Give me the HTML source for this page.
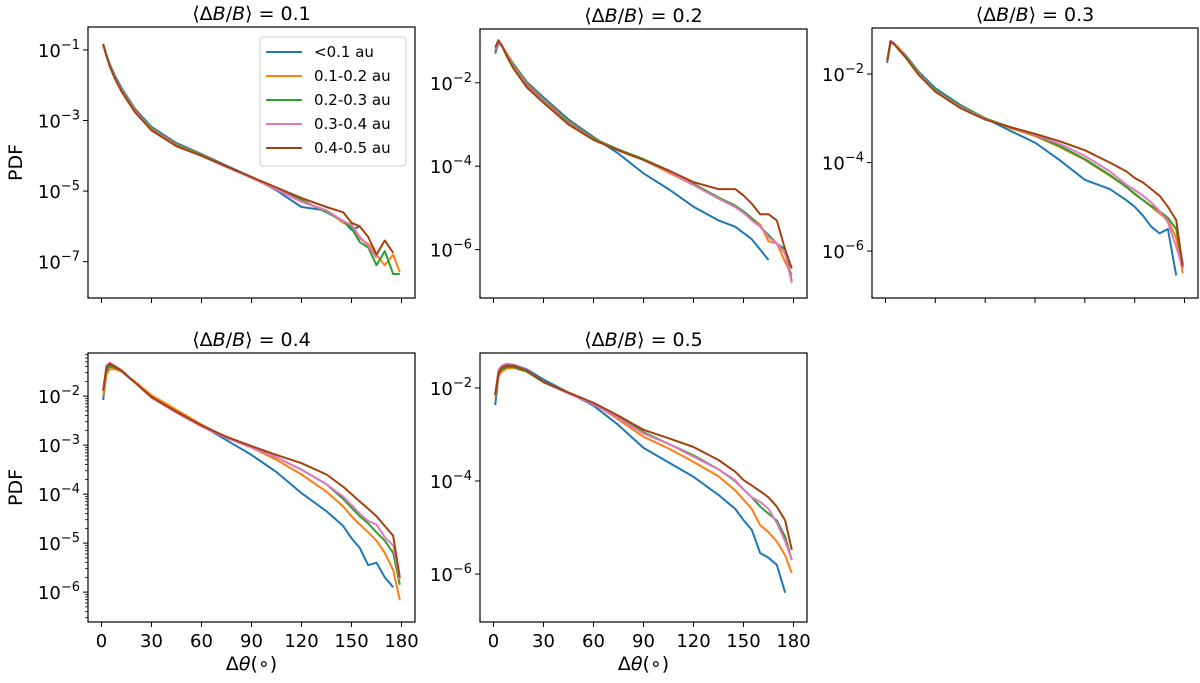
<!DOCTYPE html>
<html><head><meta charset="utf-8">
<style>
html,body{margin:0;padding:0;background:#fff;}
svg{display:block;font-family:"DejaVu Sans","Liberation Sans",sans-serif;}
</style></head>
<body>
<svg id="fig" width="1200" height="683" viewBox="0 0 1200 683" xmlns="http://www.w3.org/2000/svg"></svg>
<script>
const angles = [1,3,5,8,12,20,30,45,60,75,90,105,120,135,145,150,155,160,165,170,175,179];
const seriesNames = ['<0.1 au','0.1-0.2 au','0.2-0.3 au','0.3-0.4 au','0.4-0.5 au'];
const colors = ['#1f77b4','#ff7f0e','#2ca02c','#e377c2','#a3420f'];
const titles = ['0.1','0.2','0.3','0.4','0.5'];
// log10 PDF values per panel per series
const p1Blue  = [-0.88,-1.14,-1.4,-1.72,-2.08,-2.66,-3.18,-3.64,-3.95,-4.28,-4.6,-4.98,-5.45,-5.55,-5.85,-6.1,-6.0,null,null,null,null,null];
const p1Orange= [-0.86,-1.16,-1.43,-1.76,-2.12,-2.7,-3.22,-3.68,-3.97,-4.3,-4.63,-4.95,-5.3,-5.55,-5.9,-6.0,-6.35,-6.5,-6.8,-7.1,-6.8,-7.3];
const p1Green = [-0.85,-1.15,-1.43,-1.77,-2.14,-2.72,-3.24,-3.7,-3.98,-4.3,-4.6,-4.93,-5.25,-5.6,-5.85,-6.05,-6.45,-6.6,-7.1,-6.7,-7.35,-7.35];
const p1Pink  = [-0.84,-1.17,-1.45,-1.79,-2.16,-2.74,-3.26,-3.72,-4.0,-4.32,-4.62,-4.95,-5.3,-5.55,-5.85,-5.95,-6.3,-6.55,-6.9,null,null,null];
const p1Brown = [-0.83,-1.18,-1.47,-1.81,-2.18,-2.76,-3.28,-3.73,-4.0,-4.3,-4.6,-4.9,-5.2,-5.45,-5.6,-5.9,-6.0,-6.3,-6.8,-6.4,-6.75,null];
const p2Blue  = [-1.3,-1.05,-1.12,-1.3,-1.55,-1.98,-2.35,-2.88,-3.3,-3.7,-4.17,-4.55,-4.97,-5.3,-5.45,-5.6,-5.75,-6.0,-6.25,null,null,null];
const p2Orange= [-1.2,-1.03,-1.1,-1.3,-1.58,-2.02,-2.4,-2.93,-3.33,-3.6,-3.85,-4.15,-4.45,-4.75,-4.95,-5.1,-5.25,-5.4,-5.8,-5.85,-6.3,-6.6];
const p2Green = [-1.25,-1.02,-1.1,-1.33,-1.61,-2.05,-2.43,-2.96,-3.34,-3.6,-3.83,-4.1,-4.42,-4.75,-4.95,-5.08,-5.25,-5.45,-5.65,-5.85,-6.0,-6.75];
const p2Pink  = [-1.22,-1.02,-1.12,-1.35,-1.63,-2.08,-2.45,-2.98,-3.36,-3.62,-3.85,-4.12,-4.45,-4.78,-4.98,-5.12,-5.3,-5.45,-5.7,-5.85,-6.1,-6.8];
const p2Brown = [-1.15,-0.98,-1.1,-1.37,-1.66,-2.11,-2.48,-3.0,-3.37,-3.62,-3.85,-4.1,-4.38,-4.55,-4.55,-4.7,-4.9,-5.15,-5.15,-5.3,-6.0,-6.45];
const p3Blue  = [-1.75,-1.3,-1.32,-1.43,-1.57,-1.95,-2.32,-2.7,-3.0,-3.28,-3.55,-3.95,-4.39,-4.6,-4.85,-5.0,-5.2,-5.45,-5.6,-5.5,-6.55,null];
const p3Orange= [-1.7,-1.3,-1.3,-1.41,-1.58,-1.97,-2.36,-2.72,-3.0,-3.22,-3.4,-3.65,-3.94,-4.3,-4.55,-4.72,-4.85,-5.0,-5.15,-5.3,-5.7,-6.5];
const p3Green = [-1.7,-1.28,-1.3,-1.42,-1.58,-1.97,-2.35,-2.72,-3.0,-3.2,-3.38,-3.63,-3.92,-4.28,-4.55,-4.7,-4.85,-4.98,-5.1,-5.25,-5.5,-6.3];
const p3Pink  = [-1.72,-1.25,-1.3,-1.43,-1.61,-2.0,-2.38,-2.75,-3.02,-3.2,-3.37,-3.58,-3.85,-4.2,-4.5,-4.62,-4.75,-4.9,-5.1,-5.35,-5.9,-6.4];
const p3Brown = [-1.7,-1.26,-1.32,-1.45,-1.62,-2.02,-2.4,-2.77,-3.03,-3.2,-3.35,-3.52,-3.72,-4.0,-4.2,-4.35,-4.45,-4.6,-4.75,-5.0,-5.3,-6.35];
const p4Blue  = [-2.08,-1.5,-1.38,-1.42,-1.5,-1.72,-2.0,-2.3,-2.6,-2.9,-3.2,-3.55,-3.98,-4.35,-4.65,-4.9,-5.1,-5.45,-5.4,-5.7,-5.9,null];
const p4Orange= [-2.0,-1.55,-1.45,-1.45,-1.5,-1.7,-1.98,-2.28,-2.58,-2.85,-3.05,-3.3,-3.6,-3.95,-4.25,-4.45,-4.62,-4.78,-4.95,-5.2,-5.55,-6.16];
const p4Green = [-1.9,-1.45,-1.4,-1.42,-1.48,-1.72,-2.02,-2.32,-2.6,-2.84,-3.03,-3.25,-3.5,-3.8,-4.1,-4.28,-4.45,-4.6,-4.78,-4.95,-5.2,-5.85];
const p4Pink  = [-1.88,-1.38,-1.32,-1.38,-1.47,-1.72,-2.03,-2.34,-2.62,-2.85,-3.05,-3.25,-3.5,-3.8,-4.05,-4.22,-4.4,-4.55,-4.62,-4.88,-5.05,-5.75];
const p4Brown = [-1.88,-1.4,-1.34,-1.4,-1.48,-1.72,-2.02,-2.32,-2.6,-2.83,-3.02,-3.2,-3.37,-3.6,-3.85,-4.0,-4.15,-4.3,-4.45,-4.65,-4.85,-5.7];
const p5Blue  = [-2.37,-1.75,-1.6,-1.52,-1.5,-1.6,-1.82,-2.1,-2.38,-2.8,-3.29,-3.6,-3.91,-4.3,-4.6,-4.84,-5.05,-5.55,-5.65,-5.8,-6.4,null];
const p5Orange= [-2.2,-1.75,-1.65,-1.58,-1.57,-1.65,-1.87,-2.1,-2.33,-2.68,-3.05,-3.3,-3.59,-3.9,-4.2,-4.4,-4.6,-4.95,-5.1,-5.3,-5.6,-5.98];
const p5Green = [-2.15,-1.7,-1.6,-1.55,-1.55,-1.65,-1.88,-2.12,-2.33,-2.62,-2.95,-3.2,-3.45,-3.75,-4.0,-4.18,-4.35,-4.55,-4.7,-4.85,-5.2,-5.7];
const p5Pink  = [-2.12,-1.62,-1.52,-1.48,-1.5,-1.62,-1.87,-2.12,-2.35,-2.65,-2.98,-3.2,-3.48,-3.75,-3.98,-4.18,-4.35,-4.45,-4.6,-4.9,-5.3,-5.7];
const p5Brown = [-2.15,-1.68,-1.56,-1.52,-1.52,-1.63,-1.87,-2.1,-2.32,-2.6,-2.9,-3.08,-3.27,-3.55,-3.8,-3.98,-4.1,-4.22,-4.35,-4.55,-4.85,-5.48];
const panelSeries = [
  [p1Blue,p1Orange,p1Green,p1Pink,p1Brown],
  [p2Blue,p2Orange,p2Green,p2Pink,p2Brown],
  [p3Blue,p3Orange,p3Green,p3Pink,p3Brown],
  [p4Blue,p4Orange,p4Green,p4Pink,p4Brown],
  [p5Blue,p5Orange,p5Green,p5Pink,p5Brown]];
const yTickExps = [[-1,-3,-5,-7],[-2,-4,-6],[-2,-4,-6],[-2,-3,-4,-5,-6],[-2,-4,-6]];
const xTickLabels = [0,30,60,90,120,150,180];

// layout (not data)
const boxes = [
  {l:88,t:27,r:415,b:298,ymax:-0.35,ymin:-8.03,minor:false,xl:false,ylab:true},
  {l:480,t:29,r:807,b:298,ymax:-0.71,ymin:-7.16,minor:false,xl:false,ylab:false},
  {l:872,t:28,r:1198,b:298,ymax:-0.96,ymin:-7.06,minor:false,xl:false,ylab:false},
  {l:88,t:353,r:415,b:622,ymax:-1.12,ymin:-6.61,minor:true,xl:true,ylab:true},
  {l:480,t:353,r:807,b:622,ymax:-1.25,ymin:-7.03,minor:false,xl:true,ylab:false}];
const NS='http://www.w3.org/2000/svg';
const svg=document.getElementById('fig');
function mk(tag,attrs,parent){const e=document.createElementNS(NS,tag);for(const k in attrs)e.setAttribute(k,attrs[k]);(parent||svg).appendChild(e);return e;}

boxes.forEach((B,pi)=>{
  const g=mk('g',{});
  
  
  const x0=B.l+13.5, pxDeg=(B.r-B.l-27)/180;
  const X=a=>x0+a*pxDeg;
  const Y=v=>B.t+(B.ymax-v)/(B.ymax-B.ymin)*(B.b-B.t);
  const cp=mk('clipPath',{id:'c'+pi},g);mk('rect',{x:B.l,y:B.t,width:B.r-B.l,height:B.b-B.t},cp);
  panelSeries[pi].forEach((vals,si)=>{
    let d='',pen=false;
    vals.forEach((v,i)=>{if(v===null){pen=false;return;}d+=(pen?'L':'M')+X(angles[i]).toFixed(1)+' '+Y(v).toFixed(1);pen=true;});
    const p=mk('path',{d:d,fill:'none',stroke:colors[si],'stroke-width':2,'stroke-linejoin':'round','clip-path':'url(#c'+pi+')'},g);
    
    
  });
  const fr=mk('rect',{x:B.l,y:B.t,width:B.r-B.l,height:B.b-B.t,fill:'none',stroke:'#000','stroke-width':1.2},g);
  
  
  xTickLabels.forEach(a=>{
    mk('line',{x1:X(a),x2:X(a),y1:B.b,y2:B.b+5,stroke:'#000','stroke-width':1},g);
    if(B.xl){const t=mk('text',{x:X(a),y:B.b+25,'font-size':18,'text-anchor':'middle'},g);t.textContent=a;
      
      }
  });
  if(B.minor){for(let e=Math.floor(B.ymin);e<=Math.ceil(B.ymax);e++){for(let m=2;m<10;m++){const v=e+Math.log10(m);if(v>B.ymin&&v<B.ymax)mk('line',{x1:B.l-3,x2:B.l,y1:Y(v),y2:Y(v),stroke:'#000','stroke-width':0.8},g);}}}
  yTickExps[pi].forEach(e=>{
    mk('line',{x1:B.l-5,x2:B.l,y1:Y(e),y2:Y(e),stroke:'#000','stroke-width':1},g);
    const t=mk('text',{x:B.l-8,y:Y(e)+7,'font-size':18,'text-anchor':'end'},g);
    
    
    t.appendChild(document.createTextNode('10'));
    const s=mk('tspan',{dy:-8,'font-size':13},t);s.textContent='\u2212'+(-e);
  });
  const tt=mk('text',{x:(B.l+B.r)/2,y:B.t-7,'font-size':19,'text-anchor':'middle'},g);
  
  
  tt.innerHTML='\u27E8\u0394<tspan font-style="italic">B</tspan>/<tspan font-style="italic">B</tspan>\u27E9 = '+titles[pi];
  if(B.ylab){const yl=mk('text',{x:0,y:0,'font-size':19,'text-anchor':'middle',transform:'translate(22,'+((B.t+B.b)/2)+') rotate(-90)'},g);yl.textContent='PDF';
    
    }
  if(B.xl){const xl=mk('text',{x:(B.l+B.r)/2,y:670,'font-size':19,'text-anchor':'middle'},g);xl.innerHTML='\u0394<tspan font-style="italic">\u03B8</tspan>(\u2218)';
    
    }
});
const lg=mk('g',{});


mk('rect',{x:260,y:37,width:146,height:129,rx:3,fill:'#fff',stroke:'#ccc','stroke-width':1},lg);
seriesNames.forEach((n,i)=>{
  const y=52+i*24;
  const e=mk('g',{},lg);
  
  
  mk('line',{x1:266,x2:302,y1:y,y2:y,stroke:colors[i],'stroke-width':2},e);
  const t=mk('text',{x:314,y:y+5,'font-size':15},e);t.textContent=n;
});
</script>
</body></html>
